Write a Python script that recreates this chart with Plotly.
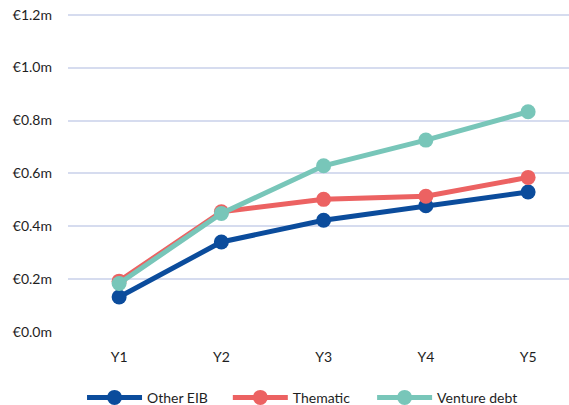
import plotly.graph_objects as go

categories = ["Y1", "Y2", "Y3", "Y4", "Y5"]
other_eib = [0.133, 0.341, 0.423, 0.478, 0.530]
thematic = [0.193, 0.455, 0.502, 0.514, 0.585]
venture_debt = [0.184, 0.449, 0.629, 0.726, 0.833]
tick_vals = [0.0, 0.2, 0.4, 0.6, 0.8, 1.0, 1.2]
tick_text = ["€0.0m", "€0.2m", "€0.4m", "€0.6m", "€0.8m", "€1.0m", "€1.2m"]

series = [
    ("Other EIB", other_eib, "#0B4C9C", "legend", 0.028),
    ("Thematic", thematic, "#EC6262", "legend2", 0.319),
    ("Venture debt", venture_debt, "#78C6B9", "legend3", 0.607),
]

font = dict(family="Lato, 'Open Sans', sans-serif", size=14, color="#1E1E1E")

fig = go.Figure()
legends = {}
for name, vals, color, leg, lx in series:
    fig.add_trace(go.Scatter(
        x=categories, y=vals, name=name, mode="lines+markers",
        line=dict(color=color, width=5),
        marker=dict(color=color, size=15),
        legend=leg,
    ))
    legends[leg] = dict(orientation="h", x=lx, xanchor="left", y=-0.152, yanchor="top",
                        font=font, itemwidth=55, bgcolor="rgba(0,0,0,0)")

fig.update_layout(
    width=569, height=405,
    margin=dict(l=68, r=0, t=12, b=72, autoexpand=False),
    paper_bgcolor="white", plot_bgcolor="white",
    font=font,
    showlegend=True,
    **legends,
    xaxis=dict(range=[-0.5, 4.4], showgrid=False, showline=False, zeroline=False,
               automargin=False, ticks="", ticklabelstandoff=14, tickfont=font),
    yaxis=dict(range=[-0.003, 1.21], tickvals=tick_vals, ticktext=tick_text,
               showgrid=True, gridcolor="#D6DCEF", gridwidth=2, automargin=False,
               ticklabeloverflow="allow",
               zeroline=False, showline=False, ticks="", ticklabelstandoff=15, tickfont=font),
)

# remove the default page margin so the figure fills the window exactly
fig.write_html("out.html", config={"displayModeBar": False},
               post_script="document.body.style.margin='0';")
